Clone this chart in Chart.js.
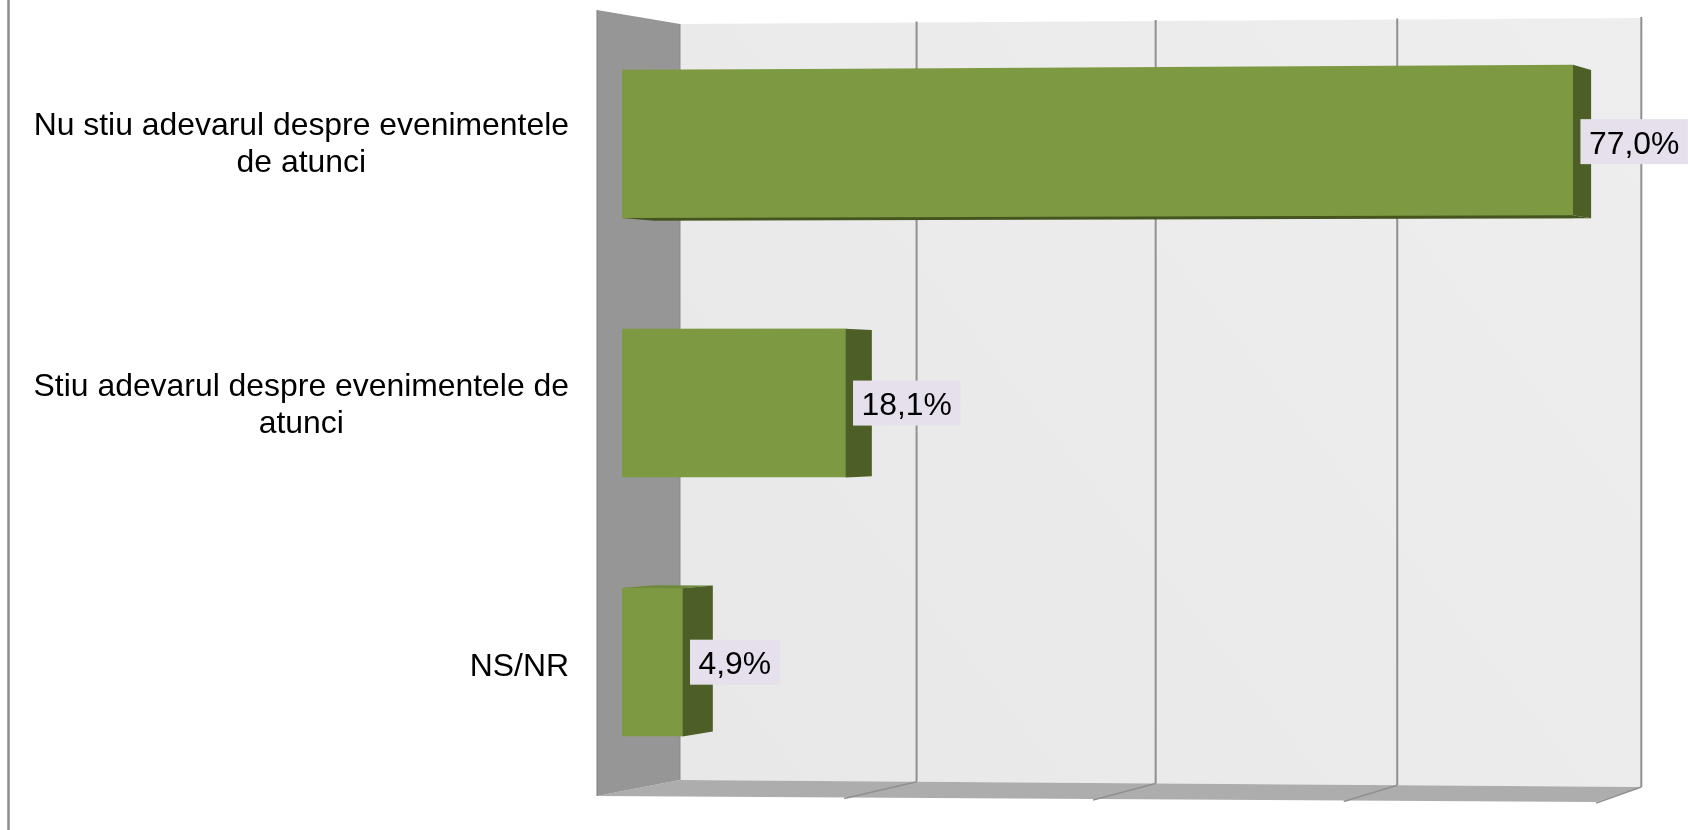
<!DOCTYPE html>
<html>
<head>
<meta charset="utf-8">
<script src="https://cdn.jsdelivr.net/npm/chart.js@4/dist/chart.umd.min.js"></script>
<style>html,body{margin:0;padding:0;background:#fff;overflow:hidden}canvas{display:block}</style>
</head>
<body>
<canvas id="c" width="1688" height="830"></canvas>
<script>
const categories = [
  ["Nu stiu adevarul despre evenimentele", "de atunci"],
  ["Stiu adevarul despre evenimentele de", "atunci"],
  ["NS/NR"]
];
const values = [77.0, 18.1, 4.9];
const axisMin = 0;
const axisMax = 80;
const axisStep = 20;

const FONT = "'Liberation Sans', Arial, sans-serif";
const FONT_SIZE = 31.9;
const LINE_HEIGHT = 37;
const C = {
  front: '#7d9a42', side: '#4d5f27', top: '#6f8a3a', bottom: '#45551f',
  sideWall: '#969696', sideEdge: '#7f7f7f', floor: '#adadad',
  grid: '#909090', frame: '#8c8c8c', labelBg: '#e5e0ec', text: '#000000'
};

// Oblique projection of the plot box, all relative to the value scale.
const DEPTH = {
  wallFront: { dx: -25, k: 1.0113, q: 1.43e-5 },
  wallBack:  { dx: 58,  k: 0.973,  q: 2.05e-5 },
  barRear:   { dx: 32,  k: 0.986,  q: 1.5e-5 }
};
const planeX = (sx, v, plane) => {
  const z = sx.getPixelForValue(axisMin);
  const t = sx.getPixelForValue(v) - z;
  const T = sx.getPixelForValue(axisMax) - z;
  return z + plane.dx + t * plane.k + plane.q * t * (t - T);
};
// slight rotation of the whole scene
const warp = (y, x, ox) => y + (x - ox) / 951 * (-6.4 + y * 0.0172);
const rearY = (y, midY) => midY + (y - midY) * 0.985;

function poly(ctx, pts, fill) {
  ctx.beginPath();
  pts.forEach((p, i) => i ? ctx.lineTo(p[0], p[1]) : ctx.moveTo(p[0], p[1]));
  ctx.closePath();
  ctx.fillStyle = fill;
  ctx.fill();
}
function line(ctx, a, b, color, w) {
  ctx.beginPath();
  ctx.moveTo(a[0], a[1]);
  ctx.lineTo(b[0], b[1]);
  ctx.strokeStyle = color;
  ctx.lineWidth = w;
  ctx.stroke();
}

const scenePlugin = {
  id: 'scene',
  afterLayout(chart) {
    // each tick block is right-aligned on the axis, its lines centred on each other
    const sy = chart.scales.y;
    const pad = sy.options.ticks.padding;
    const ctx = chart.ctx;
    const midY = (chart.chartArea.top + chart.chartArea.bottom) / 2;
    ctx.save();
    ctx.font = FONT_SIZE + 'px ' + FONT;
    sy.getLabelItems(chart.chartArea).forEach(item => {
      const lines = [].concat(item.label);
      const w = Math.max(...lines.map(t => ctx.measureText(t).width));
      const tickY = item.options.translation[1];
      item.options.textAlign = 'center';
      item.options.textBaseline = 'alphabetic';
      item.options.translation[0] = sy.right - pad - w / 2;
      item.textOffset = (1 - lines.length) * LINE_HEIGHT / 2 + 11.5 + (tickY - midY) * 0.0081;
    });
    ctx.restore();
  },
  beforeDatasetsDraw(chart) {
    const { ctx, scales: { x: sx }, chartArea: ca } = chart;
    const wallTop = ca.top + 9.5, wallBottom = ca.bottom - 11.5;
    const frontTop = ca.top - 4.5, frontBottom = ca.bottom + 4.5;
    const B = v => planeX(sx, v, DEPTH.wallBack);
    const F = v => planeX(sx, v, DEPTH.wallFront);
    const b0 = B(axisMin), bN = B(axisMax), f0 = F(axisMin), fN = F(axisMax);
    const bTop = x => wallTop + (x - b0) * (-6 / (bN - b0));
    const bBot = x => wallBottom + (x - b0) * (7 / (bN - b0));
    const fBot = x => frontBottom + (x - f0) * (6 / (fN - f0));

    ctx.save();
    // outer frame line on the far left
    line(ctx, [8.5, 0], [8.5, chart.height], C.frame, 2.5);

    // back wall
    const g = ctx.createLinearGradient(b0, wallBottom, bN, wallTop);
    g.addColorStop(0, '#e8e8e8');
    g.addColorStop(1, '#eeeeee');
    poly(ctx, [[b0, bTop(b0)], [bN, bTop(bN)], [bN, bBot(bN)], [b0, bBot(b0)]], g);

    // floor
    poly(ctx, [[b0, bBot(b0)], [bN, bBot(bN)], [fN, fBot(fN)], [f0, fBot(f0)]], C.floor);

    // side wall
    poly(ctx, [[f0, frontTop], [b0, wallTop], [b0, wallBottom], [f0, frontBottom]], C.sideWall);
    line(ctx, [f0, frontTop], [f0, frontBottom], C.sideEdge, 1);
    line(ctx, [b0, wallTop], [b0, wallBottom], '#8a8a8a', 1);

    // gridlines from the value scale's ticks
    sx.ticks.forEach(t => {
      const bx = B(t.value), fx = F(t.value);
      if (t.value !== axisMin) {
        line(ctx, [bx, bTop(bx) - 1], [bx, bBot(bx)], C.grid, 2);
        line(ctx, [bx, bBot(bx)], [fx, fBot(fx) + 1], C.grid, 1.5);
      }
    });
    ctx.restore();
  },
  afterDatasetsDraw(chart) {
    const { ctx, scales: { x: sx }, chartArea: ca } = chart;
    const meta = chart.getDatasetMeta(0);
    const ox = sx.getPixelForValue(axisMin);
    const midY = (ca.top + ca.bottom) / 2;
    ctx.save();
    meta.data.forEach((el, i) => {
      const v = values[i];
      const x = el.x;
      const top = el.y - el.height / 2, bot = el.y + el.height / 2;
      const fT0 = warp(top, ox, ox), fT1 = warp(top, x, ox);
      const fB0 = warp(bot, ox, ox), fB1 = warp(bot, x, ox);
      const rx0 = planeX(sx, axisMin, DEPTH.barRear), rx1 = planeX(sx, v, DEPTH.barRear);
      const rT0 = rearY(top, midY), rT1 = rearY(fT1, midY);
      const rB0 = rearY(bot, midY), rB1 = rearY(fB1, midY);
      // top face when seen from above
      if (rT1 < fT1 - 0.5) poly(ctx, [[ox, fT0], [x, fT1], [rx1, rT1], [rx0, rT0]], C.top);
      // top edge tilts away from the rectangular bar
      if (fT1 < fT0) poly(ctx, [[ox, fT0], [x, fT1], [x, fT0]], C.front);
      // bottom face when seen from below
      if (rB1 > fB1 + 0.5) poly(ctx, [[ox, fB0], [x, fB1], [rx1, rB1], [rx0, rB0]], C.bottom);
      // right side face
      poly(ctx, [[x, fT1], [rx1, rT1], [rx1, rB1], [x, fB1]], C.side);
    });

    // value labels
    ctx.font = FONT_SIZE + 'px ' + FONT;
    ctx.textAlign = 'left';
    ctx.textBaseline = 'alphabetic';
    meta.data.forEach((el, i) => {
      const txt = values[i].toFixed(1).replace('.', ',') + '%';
      const w = ctx.measureText(txt).width;
      const bx = el.x + 7.5, padX = 8.5, h = 45;
      const cy = el.y + (warp(el.y, el.x, ox) - el.y) * 0.6;
      ctx.fillStyle = C.labelBg;
      ctx.fillRect(bx, cy - h / 2, w + padX * 2, h);
      ctx.fillStyle = C.text;
      ctx.fillText(txt, bx + padX, cy + 12);
    });
    ctx.restore();
  }
};

new Chart(document.getElementById('c'), {
  type: 'bar',
  data: {
    labels: categories,
    datasets: [{
      data: values,
      backgroundColor: C.front,
      borderWidth: 0,
      barThickness: 148
    }]
  },
  options: {
    indexAxis: 'y',
    responsive: false,
    animation: false,
    layout: { padding: { left: 0, right: 78, top: 14.5, bottom: 38.5 } },
    plugins: { legend: { display: false }, tooltip: { enabled: false }, title: { display: false } },
    scales: {
      x: {
        min: axisMin, max: axisMax,
        ticks: { display: false, stepSize: axisStep },
        grid: { display: false, drawTicks: false },
        border: { display: false }
      },
      y: {
        afterFit(s) { s.width = 622; s.paddingTop = 0; s.paddingBottom = 0; },
        grid: { display: false, drawTicks: false },
        border: { display: false },
        ticks: {
          padding: 53,
          autoSkip: false,
          color: C.text,
          font: { family: FONT, size: FONT_SIZE, lineHeight: LINE_HEIGHT / FONT_SIZE }
        }
      }
    }
  },
  plugins: [scenePlugin]
});
</script>
</body>
</html>
